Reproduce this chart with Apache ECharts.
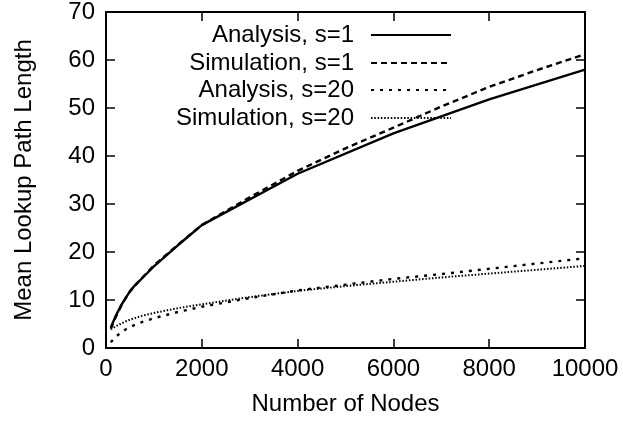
<!DOCTYPE html>
<html>
<head>
<meta charset="utf-8">
<script src="https://cdn.jsdelivr.net/npm/echarts@6/dist/echarts.min.js"></script>
<style>html,body{margin:0;padding:0;background:#fff}#c{width:623px;height:427px}</style>
</head>
<body>
<div id="c"></div>
<script>
const xTicks = [0, 2000, 4000, 6000, 8000, 10000];
const yTicks = [0, 10, 20, 30, 40, 50, 60, 70];

const nodesA1 = [100, 200, 300, 400, 500, 600, 800, 1000, 1500, 2000, 4000, 6000, 8000, 10000];
const analysisS1 = [4.3, 6.6, 8.6, 10.3, 11.8, 13.0, 15.0, 17.0, 21.4, 25.6, 36.3, 44.7, 51.8, 58.0];

const nodesS1 = [100, 200, 300, 400, 500, 600, 800, 1000, 1500, 2000, 3000, 4000, 5000, 6000, 7000, 8000, 9000, 10000];
const simulationS1 = [4.0, 6.4, 8.4, 10.2, 11.8, 13.0, 15.1, 17.2, 21.5, 25.6, 31.4, 36.9, 41.6, 45.9, 50.3, 54.4, 57.9, 61.2];

const nodes20 = [100, 200, 300, 400, 500, 750, 1000, 1500, 2000, 3000, 4000, 5000, 6000, 7000, 8000, 9000, 10000];
const analysisS20 = [1.2, 2.3, 3.1, 3.8, 4.4, 5.4, 6.2, 7.5, 8.6, 10.4, 12.0, 13.2, 14.4, 15.4, 16.5, 17.6, 18.7];
const simulationS20 = [3.9, 4.5, 5.0, 5.5, 5.9, 6.7, 7.3, 8.3, 9.1, 10.6, 11.9, 12.9, 13.8, 14.7, 15.5, 16.3, 17.1];

const names = ['Analysis, s=1', 'Simulation, s=1', 'Analysis, s=20', 'Simulation, s=20'];

function pairs(xs, ys) { return xs.map((x, i) => [x, ys[i]]); }

const FONT = 'Liberation Sans';
const FS = 24;
const chart = echarts.init(document.getElementById('c'), null, {renderer: 'canvas'});

const axisCommon = {
  axisLine: {show: true, onZero: false, lineStyle: {color: '#000', width: 2}},
  axisTick: {show: true, inside: true, length: 9, lineStyle: {color: '#000', width: 1.5}},
  splitLine: {show: false}
};

const legendRows = [35, 63, 90, 118];
const legends = names.map((n, i) => ({
  data: [n],
  right: 171,
  top: legendRows[i] - 12,
  align: 'right',
  orient: 'vertical',
  itemWidth: 80,
  itemHeight: 24,
  padding: 0,
  selectedMode: false,
  itemStyle: {opacity: 0},
  textStyle: {fontFamily: FONT, fontSize: FS, color: '#000', padding: [0, 12, 0, 0]}
}));

chart.setOption({
  animation: false,
  backgroundColor: '#fff',
  grid: {left: 106, right: 38, top: 10, bottom: 79, containLabel: false},
  legend: legends,
  xAxis: [
    Object.assign({
      type: 'value', min: 0, max: 10000, interval: 2000, position: 'bottom',
      name: 'Number of Nodes', nameLocation: 'middle', nameGap: 44,
      nameTextStyle: {fontFamily: FONT, fontSize: FS, color: '#000'},
      axisLabel: {fontFamily: FONT, fontSize: FS, color: '#000', margin: 9, formatter: v => String(v)}
    }, axisCommon),
    Object.assign({
      type: 'value', min: 0, max: 10000, interval: 2000, position: 'top',
      axisLabel: {show: false}
    }, axisCommon)
  ],
  yAxis: [
    Object.assign({
      type: 'value', min: 0, max: 70, interval: 10, position: 'left',
      name: 'Mean Lookup Path Length', nameLocation: 'middle', nameGap: 70,
      nameTextStyle: {fontFamily: FONT, fontSize: FS, color: '#000'},
      axisLabel: {fontFamily: FONT, fontSize: FS, color: '#000', margin: 11, formatter: v => String(v)}
    }, axisCommon),
    Object.assign({
      type: 'value', min: 0, max: 70, interval: 10, position: 'right',
      axisLabel: {show: false}
    }, axisCommon)
  ],
  series: [
    {name: names[0], type: 'line', data: pairs(nodesA1, analysisS1), symbol: 'none', showSymbol: false,
     color: '#000', lineStyle: {color: '#000', width: 2.4, type: 'solid'}},
    {name: names[1], type: 'line', data: pairs(nodesS1, simulationS1), symbol: 'none', showSymbol: false,
     color: '#000', lineStyle: {color: '#000', width: 2.4, type: [6, 4]}},
    {name: names[2], type: 'line', data: pairs(nodes20, analysisS20), symbol: 'none', showSymbol: false,
     color: '#000', lineStyle: {color: '#000', width: 2.4, type: [3, 6]}},
    {name: names[3], type: 'line', data: pairs(nodes20, simulationS20), symbol: 'none', showSymbol: false,
     color: '#000', lineStyle: {color: '#000', width: 2, type: [1.5, 1.8]}}
  ]
});
</script>
</body>
</html>
